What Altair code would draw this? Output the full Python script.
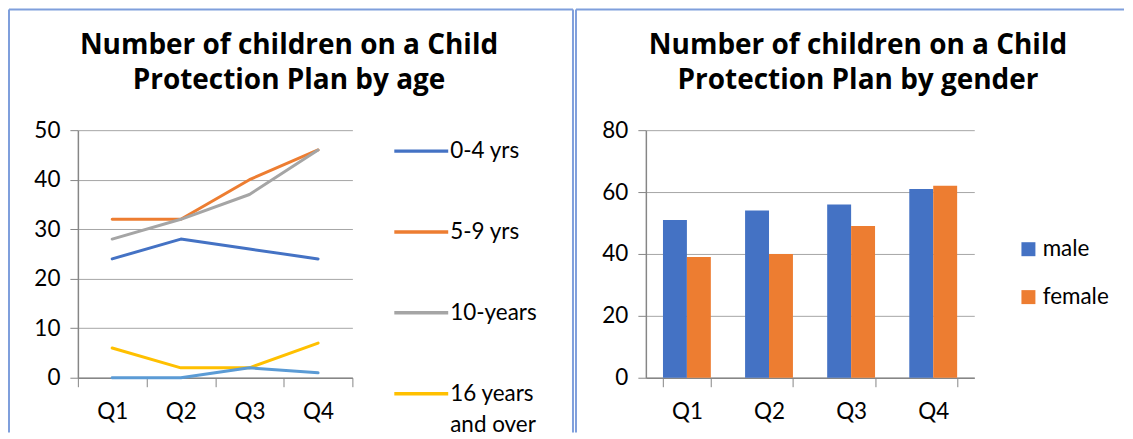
import altair as alt
import pandas as pd

# ---------------- data ----------------
quarters = ["Q1", "Q2", "Q3", "Q4"]

age_groups = ["0-4 yrs", "5-9 yrs", "10-years", "16 years and over", "Unborn"]
age_0_4 = [24, 28, 26, 24]
age_5_9 = [32, 32, 40, 46]
age_10 = [28, 32, 37, 46]
age_16 = [6, 2, 2, 7]
age_other = [0, 0, 2, 1]
age_colors = ["#4472C4", "#ED7D31", "#A5A5A5", "#FFC000", "#5B9BD5"]

genders = ["male", "female"]
male = [51, 54, 56, 61]
female = [39, 40, 49, 62]
gender_colors = ["#4472C4", "#ED7D31"]

title_age = ["Number of children on a Child", "Protection Plan by age"]
title_gender = ["Number of children on a Child", "Protection Plan by gender"]

# ---------------- tables ----------------
series_values = [age_0_4, age_5_9, age_10, age_16, age_other]
line_rows = []
for si, (name, vals) in enumerate(zip(age_groups, series_values)):
    for q, v in zip(quarters, vals):
        line_rows.append({"quarter": q, "series": name, "value": v, "ord": si})
line_df = pd.DataFrame(line_rows)

bar_rows = []
for g, vals in zip(genders, [male, female]):
    for q, v in zip(quarters, vals):
        bar_rows.append({"quarter": q, "gender": g, "value": v})
bar_df = pd.DataFrame(bar_rows)

FONT = "Lato"
TFONT = "Open Sans"
GRID = "#A6A6A6"
AXIS = "#868686"
BORDER = "#7F9FDC"
W_L, W_R, H = 275, 329, 248


def x_axis():
    return alt.Axis(title=None, labelAngle=0, tickBand="extent", grid=False,
                    domainColor=AXIS, tickColor=AXIS, tickSize=9, domainWidth=1.5,
                    labelFont=FONT, labelFontSize=22.5, labelColor="black",
                    labelPadding=14)


def y_axis(vals):
    return alt.Axis(title=None, values=vals, grid=True, gridColor=GRID,
                    domainColor=AXIS, tickColor=AXIS, tickSize=8, domainWidth=1.5,
                    labelFont=FONT, labelFontSize=22.5, labelColor="black",
                    labelPadding=10)


def frame(x0, x1, y0, y1):
    base = alt.Chart(pd.DataFrame({"k": [0]}))
    left = base.mark_rule(color=BORDER, strokeWidth=2).encode(
        x=alt.value(x0), y=alt.value(y0), y2=alt.value(y1))
    top = base.mark_rule(color=BORDER, strokeWidth=2).encode(
        x=alt.value(x0), x2=alt.value(x1), y=alt.value(y0))
    return left, top


# ---------------- left: line chart ----------------
lines = alt.Chart(line_df).mark_line(strokeWidth=3, strokeCap="round", strokeJoin="round").encode(
    x=alt.X("quarter:N", sort=quarters,
            scale=alt.Scale(type="band", domain=quarters, paddingInner=0, paddingOuter=0),
            axis=x_axis()),
    y=alt.Y("value:Q", scale=alt.Scale(domain=[0, 50]), axis=y_axis([0, 10, 20, 30, 40, 50])),
    color=alt.Color("series:N",
                    scale=alt.Scale(domain=age_groups, range=age_colors),
                    legend=alt.Legend(title=None, orient="none", legendX=315, legendY=-8,
                                      values=age_groups[:4],
                                      symbolType="stroke", symbolSize=2916,
                                      symbolStrokeWidth=3.5, padding=0,
                                      labelFont=FONT, labelFontSize=22.5, labelColor="black",
                                      labelOffset=0, labelLimit=300, rowPadding=40,
                                      labelExpr="datum.label == '16 years and over' ? ['16 years', 'and over'] : datum.label")),
    order=alt.Order("ord:Q"),
)

l_left, l_top = frame(-69, 496, -121, 303)
l_right = alt.Chart(pd.DataFrame({"k": [0]})).mark_rule(color=BORDER, strokeWidth=2).encode(
    x=alt.value(496), y=alt.value(-121), y2=alt.value(303))

left_chart = alt.layer(lines, l_left, l_top, l_right).properties(
    width=W_L, height=H,
    title=alt.Title(title_age, font=TFONT, fontSize=28, fontWeight="bold", color="black",
                    anchor="middle", frame="group", dx=74, lineHeight=35, offset=-87),
)

# ---------------- right: bar chart ----------------
bars = alt.Chart(bar_df).mark_bar().encode(
    x=alt.X("quarter:N", sort=quarters,
            scale=alt.Scale(domain=quarters, paddingInner=0.417, paddingOuter=0.2085),
            axis=x_axis()),
    xOffset=alt.XOffset("gender:N", sort=genders, scale=alt.Scale(domain=genders, paddingInner=0, paddingOuter=0)),
    y=alt.Y("value:Q", scale=alt.Scale(domain=[0, 80]), axis=y_axis([0, 20, 40, 60, 80])),
    color=alt.Color("gender:N",
                    scale=alt.Scale(domain=genders, range=gender_colors),
                    legend=alt.Legend(title=None, orient="none", legendX=372, legendY=108,
                                      symbolType="square", symbolSize=196,
                                      symbolStrokeWidth=0, padding=0,
                                      labelFont=FONT, labelFontSize=22.5, labelColor="black",
                                      labelOffset=3, rowPadding=25)),
)

r_left, r_top = frame(-70, 479, -121, 303)

right_chart = alt.layer(bars, r_left, r_top).properties(
    width=W_R, height=H,
    title=alt.Title(title_gender, font=TFONT, fontSize=28, fontWeight="bold", color="black",
                    anchor="middle", frame="group", dx=48, lineHeight=35, offset=-87),
)

chart = alt.hconcat(left_chart, right_chart, spacing=1).resolve_scale(
    color="independent", x="independent", y="independent", xOffset="independent"
).properties(padding=0, background="white").configure(
    style={"guide-label": {"lineHeight": 31}}
).configure_view(stroke=None)

chart.save("out.html", embed_options={"renderer": "svg", "actions": False})
